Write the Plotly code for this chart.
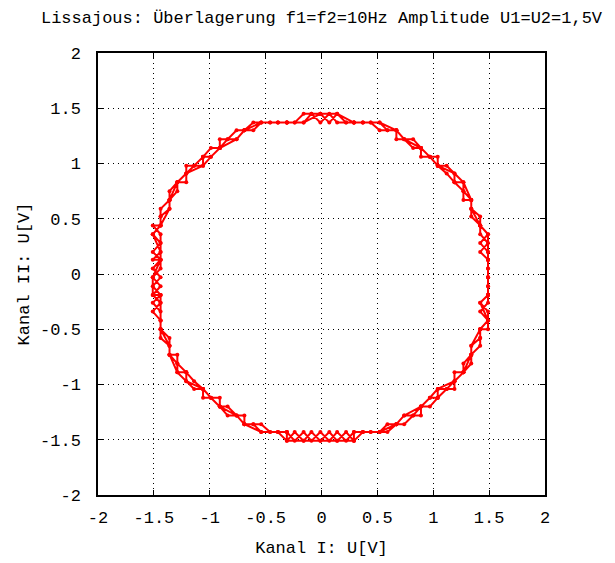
import plotly.graph_objects as go

sweep_x = [
    -0.01, 0.07, 0.14, 0.22, 0.29, 0.29, 0.37, 0.44, 0.52, 0.59, 0.67, 0.67,
    0.74, 0.82, 0.89, 0.89, 0.97, 1.04, 1.04, 1.12, 1.19, 1.19, 1.27, 1.27,
    1.34, 1.34, 1.34, 1.42, 1.42, 1.42, 1.49, 1.42, 1.49, 1.49, 1.49, 1.49,
    1.49, 1.49, 1.49, 1.49, 1.42, 1.49, 1.49, 1.42, 1.42, 1.42, 1.34, 1.34,
    1.34, 1.27, 1.27, 1.19, 1.19, 1.12, 1.04, 1.04, 0.97, 0.89, 0.89, 0.82,
    0.74, 0.67, 0.67, 0.59, 0.52, 0.44, 0.37, 0.29, 0.29, 0.22, 0.14, 0.07,
    -0.01, -0.09, -0.16, -0.24, -0.31, -0.31, -0.39, -0.46, -0.54, -0.61, -0.69, -0.69,
    -0.76, -0.84, -0.91, -0.91, -0.99, -1.06, -1.06, -1.14, -1.21, -1.21, -1.29, -1.29,
    -1.36, -1.36, -1.36, -1.44, -1.44, -1.44, -1.44, -1.51, -1.44, -1.44, -1.51, -1.44,
    -1.51, -1.44, -1.44, -1.51, -1.44, -1.44, -1.51, -1.44, -1.44, -1.44, -1.36, -1.36,
    -1.36, -1.29, -1.29, -1.21, -1.21, -1.14, -1.06, -1.06, -0.99, -0.91, -0.91, -0.84,
    -0.76, -0.69, -0.69, -0.61, -0.54, -0.46, -0.39, -0.31, -0.31, -0.24, -0.16, -0.09,
]
sweep_y = [
    1.45, 1.37, 1.45, 1.37, 1.37, 1.37, 1.37, 1.37, 1.37, 1.30, 1.30, 1.30,
    1.22, 1.22, 1.14, 1.14, 1.06, 1.06, 0.98, 0.98, 0.91, 0.83, 0.83, 0.75,
    0.67, 0.67, 0.59, 0.52, 0.44, 0.44, 0.36, 0.28, 0.20, 0.13, 0.13, 0.05,
    -0.03, -0.11, -0.19, -0.19, -0.26, -0.34, -0.42, -0.50, -0.50, -0.58, -0.65, -0.73,
    -0.73, -0.81, -0.89, -0.89, -0.97, -1.04, -1.04, -1.12, -1.12, -1.20, -1.20, -1.28,
    -1.28, -1.36, -1.36, -1.36, -1.43, -1.43, -1.43, -1.43, -1.51, -1.43, -1.51, -1.43,
    -1.51, -1.43, -1.51, -1.43, -1.51, -1.43, -1.43, -1.43, -1.43, -1.36, -1.36, -1.36,
    -1.28, -1.28, -1.20, -1.20, -1.12, -1.12, -1.04, -1.04, -0.97, -0.89, -0.89, -0.81,
    -0.73, -0.73, -0.65, -0.58, -0.50, -0.50, -0.42, -0.34, -0.26, -0.19, -0.19, -0.11,
    -0.03, 0.05, 0.13, 0.13, 0.20, 0.28, 0.36, 0.44, 0.44, 0.52, 0.59, 0.67,
    0.67, 0.75, 0.83, 0.83, 0.91, 0.98, 0.98, 1.06, 1.06, 1.14, 1.14, 1.22,
    1.22, 1.30, 1.30, 1.30, 1.37, 1.37, 1.37, 1.37, 1.37, 1.37, 1.37, 1.45,
]

x_ticks = [-2, -1.5, -1, -0.5, 0, 0.5, 1, 1.5, 2]
y_ticks = [-2, -1.5, -1, -0.5, 0, 0.5, 1, 1.5, 2]
x_tick_text = ["-2", "-1.5", "-1", "-0.5", "0", "0.5", "1", "1.5", "2"]
y_tick_text = ["-2", "-1.5", "-1", "-0.5", "0", "0.5", "1", "1.5", "2"]

title_text = "Lissajous: Überlagerung f1=f2=10Hz Amplitude U1=U2=1,5V"
x_title = "Kanal I: U[V]"
y_title = "Kanal II: U[V]"

# The trace passes the figure three times: a full-rate pass, a pass where
# channel II lags one sample behind channel I, and a half-rate pass.
n = len(sweep_x)
pairs = [(i, i) for i in range(n)]
pairs += [(i, (i + 1) % n) for i in range(n)]
pairs += [(i, i) for i in range(0, n, 2)] + [(0, 0)]
trace_x = [sweep_x[a] for a, b in pairs]
trace_y = [sweep_y[b] for a, b in pairs]

FONT = "Liberation Mono"

fig = go.Figure()
fig.add_trace(go.Scatter(
    x=trace_x, y=trace_y,
    mode="lines+markers",
    line=dict(color="#ff0000", width=2),
    marker=dict(color="#ff0000", size=4),
    showlegend=False,
    hoverinfo="skip",
))

axis_common = dict(
    range=[-2, 2],
    automargin=False,
    showgrid=True,
    gridcolor="black",
    gridwidth=1,
    griddash="1px,4px",
    zeroline=False,
    showline=True,
    linecolor="black",
    linewidth=1.5,
    mirror="ticks",
    ticks="inside",
    ticklen=5,
    tickwidth=1,
    tickcolor="black",
    tickfont=dict(family=FONT, size=17, color="black"),
)

fig.update_layout(
    width=615, height=563,
    margin=dict(l=98, r=70, t=53, b=68, autoexpand=False),
    paper_bgcolor="white",
    plot_bgcolor="white",
    title=dict(
        text=title_text,
        font=dict(family=FONT, size=17, color="black"),
        x=(98 + 545) / 2 / 615, xanchor="center",
        y=1 - 17 / 563, yanchor="middle",
    ),
    xaxis=dict(
        axis_common,
        tickvals=x_ticks, ticktext=x_tick_text,
        ticklabelstandoff=6,
        title=dict(text=x_title, font=dict(family=FONT, size=17, color="black"), standoff=14),
    ),
    yaxis=dict(
        axis_common,
        tickvals=y_ticks, ticktext=y_tick_text,
        ticklabelstandoff=12,
        title=dict(text=y_title, font=dict(family=FONT, size=17, color="black"), standoff=6),
    ),
)

fig.write_html("out.html")
